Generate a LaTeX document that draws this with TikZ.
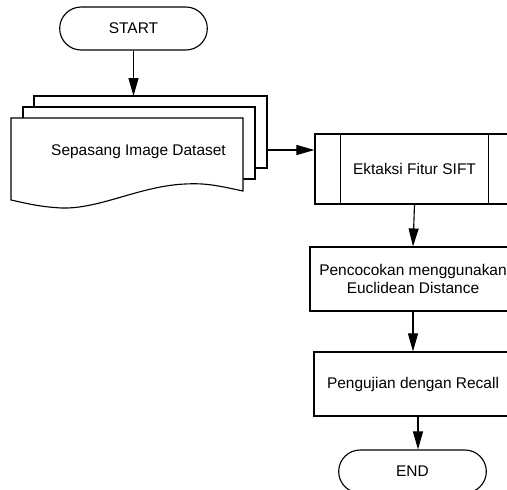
\documentclass[tikz,border=0pt]{standalone}
\usepackage{fontspec}
\setmainfont{Liberation Sans}
\usetikzlibrary{arrows.meta,shapes.misc}

\begin{document}
\begin{tikzpicture}[x=0.025cm,y=-0.025cm,line width=0.8pt]
  \tikzstyle{terminal}=[draw, rounded rectangle, minimum width=3.925cm, minimum height=1.075cm, font=\fontsize{11}{13}\selectfont]
  \tikzstyle{procbox}=[draw, minimum height=1.6cm, align=center, font=\fontsize{11}{13}\selectfont]
  \tikzstyle{page}=[draw, fill=white]
  \tikzstyle{flow}=[-{Triangle[length=0.45cm,width=0.25cm]}]
  \useasboundingbox (0,0) rectangle (507,489);
  \clip (0,0) rectangle (507,489);
  \node[terminal] (start) at (133.5,28.5) {START};
  % tumpukan dokumen
  \draw[page] (34,96) rectangle (267,168);
  \draw[page] (23,107) rectangle (255,179);
  \draw[page] (11,118) -- (243,118) -- (243,191)
    .. controls (215,185) and (205,183) .. (185,184)
    .. controls (140,186) and (100,209) .. (62,208)
    .. controls (40,207) and (25,203) .. (11,200) -- cycle;
  \node[font=\fontsize{11}{13}\selectfont] (data) at (138.5,152) {Sepasang Image Dataset};
  \coordinate (stacktop) at (136,96);
  \coordinate (stackout) at (267,150);
  \node[procbox, minimum width=4.975cm, minimum height=1.75cm] (sift) at (414.5,169) {Ektaksi Fitur SIFT};
  \draw ([xshift=0.65cm]sift.north west) -- ([xshift=0.65cm]sift.south west);
  \draw ([xshift=-0.65cm]sift.north east) -- ([xshift=-0.65cm]sift.south east);
  \node[procbox, minimum width=5.15cm] (match) at (413,279) {Pencocokan menggunakan\\Euclidean Distance};
  \node[procbox, minimum width=4.95cm] (recall) at (413,384) {Pengujian dengan Recall};
  \node[terminal] (end) at (412.5,471.5) {END};
  \draw[flow] (start.south) -- (start.south |- stacktop);
  \draw[flow] (stackout) -- (stackout -| sift.west);
  \draw[flow] (sift.south) -- (match.north);
  \draw[flow] (match.south) -- (recall.north);
  \draw[flow] ([xshift=0.125cm]recall.south) -- ([xshift=0.125cm]recall.south |- end.north);
\end{tikzpicture}
\end{document}
